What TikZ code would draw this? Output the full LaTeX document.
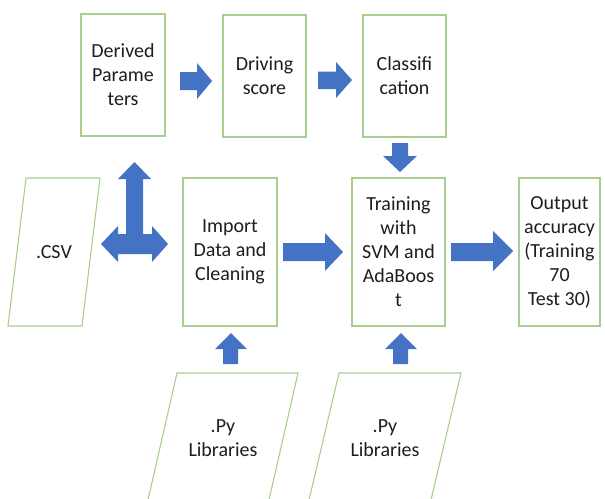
\documentclass[tikz,border=0pt]{standalone}
\usepackage{fontspec}
\setmainfont{Carlito}
\definecolor{boxgreen}{HTML}{A9CF8E}
\definecolor{arrowblue}{HTML}{4472C4}
\definecolor{txt}{HTML}{1E1E1E}
\begin{document}
\begin{tikzpicture}[x=1pt,y=-1pt,
  box/.style={draw=boxgreen, line width=1.1pt, fill=white},
  lbl/.style={font=\fontsize{20}{24}\selectfont, text=txt, align=center, inner sep=0pt},
  rbox/.style={box, lbl, rectangle},
  barrow/.style={fill=arrowblue, draw=none}]
\useasboundingbox (0,0) rectangle (605,498);
\fill[white] (0,0) rectangle (605,498);

% rectangles
\node[rbox, minimum width=84pt, minimum height=122pt] (dp) at (123,75) {Derived\\Parame\\ters};
\node[rbox, minimum width=83pt, minimum height=122pt] (ds) at (264.5,76) {Driving\\score};
\node[rbox, minimum width=83pt, minimum height=122pt] (cl) at (404.5,76) {Classifi\\cation};
\node[rbox, minimum width=94pt, minimum height=148pt] (imp) at (230,252) {Import\\Data and\\Cleaning};
\node[rbox, minimum width=93pt, minimum height=148pt] (tr) at (398.5,252) {Training\\with\\SVM and\\AdaBoos\\t};
\node[rbox, minimum width=81pt, minimum height=148pt] (out) at (559.5,252) {Output\\accuracy\\(Training\\70\\Test 30)};

% parallelograms
\draw[box] (26,178) -- (100,178) -- (82,326) -- (8,326) -- cycle;
\node[lbl] (csv) at (54,252) {.CSV};
\draw[box] (148,500) -- (177,373) -- (298,373) -- (269,500);
\node[lbl] (py1) at (223,438) {.Py\\Libraries};
\draw[box] (309,500) -- (339,373) -- (461,373) -- (431,500);
\node[lbl] (py2) at (385,438) {.Py\\Libraries};

% block arrows
\fill[barrow] (180,72) -- (197,72) -- (197,63) -- (212,81) -- (197,99) -- (197,90) -- (180,90) -- cycle;
\fill[barrow] (318,71.5) -- (336,71.5) -- (336,62) -- (352,80) -- (336,98) -- (336,89) -- (318,89) -- cycle;
\fill[barrow] (283,243) -- (325,243) -- (325,233) -- (343,252) -- (325,271) -- (325,261) -- (283,261) -- cycle;
\fill[barrow] (451,243) -- (493,243) -- (493,231) -- (513,251) -- (493,271) -- (493,261) -- (451,261) -- cycle;
\fill[barrow] (392,143) -- (408,143) -- (408,156) -- (417,156) -- (400,172) -- (383,156) -- (392,156) -- cycle;
\fill[barrow] (223,364) -- (238,364) -- (238,349) -- (247,349) -- (231,333) -- (215,349) -- (223,349) -- cycle;
\fill[barrow] (393,364) -- (408,364) -- (408,349) -- (417,349) -- (401,333) -- (385,349) -- (393,349) -- cycle;
\fill[barrow] (134.5,162) -- (151,179) -- (143,179) -- (143,234) -- (152,234) -- (152,226) -- (168,244)
  -- (152,262) -- (152,254) -- (118,254) -- (118,262) -- (101,244) -- (118,226) -- (118,234)
  -- (126,234) -- (126,179) -- (118,179) -- cycle;
\end{tikzpicture}
\end{document}
